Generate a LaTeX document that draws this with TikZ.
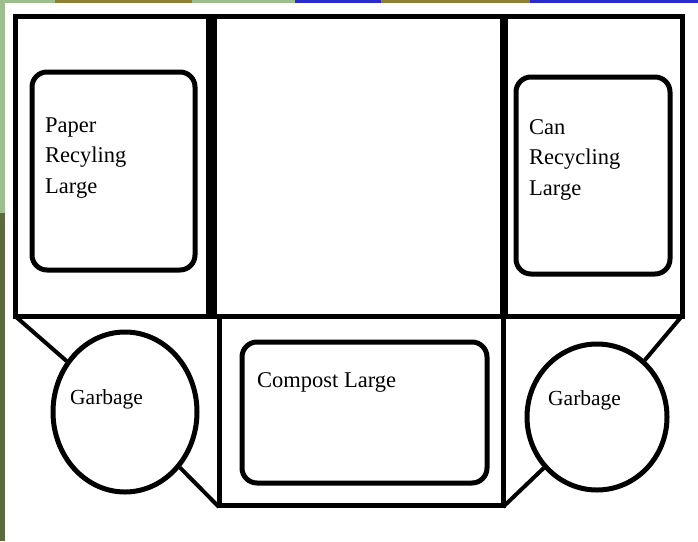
\documentclass[tikz,border=0pt]{standalone}
\usepackage{fontspec}
\setmainfont{Liberation Serif}
\usetikzlibrary{shapes.geometric}

\definecolor{leaf}{HTML}{9DBF8E}
\definecolor{moss}{HTML}{5B6B3B}
\definecolor{bark}{HTML}{8D7D35}
\definecolor{sky}{HTML}{2B2BCC}

\tikzset{
  bin/.style={draw, line width=5pt, rounded corners=15pt, inner sep=0pt},
  can/.style={draw, ellipse, line width=5pt, inner sep=0pt},
  word/.style={font=\fontsize{22.5}{30.5}\selectfont, align=left, inner sep=0pt, anchor=base west},
}

\begin{document}
\begin{tikzpicture}[x=1pt, y=-1pt]
\useasboundingbox (0,0) rectangle (698,541);
\fill[white] (0,0) rectangle (698,541);

% backdrop
\fill[leaf] (0,0) rectangle (55,3);
\fill[bark] (55,0) rectangle (192,3);
\fill[leaf] (192,0) rectangle (295,3);
\fill[sky] (295,0) rectangle (381,3);
\fill[bark] (381,0) rectangle (530,3);
\fill[sky] (530,0) rectangle (698,3);
\fill[leaf] (0,0) rectangle (5,213);
\fill[moss] (0,213) rectangle (5,541);

% frame
\draw[line width=5pt] (15,16) rectangle (682,316);
\draw[line width=11pt] (211,16) -- (211,316);
\draw[line width=8pt] (504,16) -- (504,316);
\draw[line width=5pt] (219,316) -- (219,505) -- (503,505) -- (503,316);

\coordinate (ul) at (15,316);
\coordinate (ll) at (219,507);
\coordinate (ur) at (682,316);
\coordinate (lr) at (503,507);

\node[bin, minimum width=163, minimum height=198] (paper) at (113.5,171) {};
\node[bin, minimum width=154, minimum height=197] (tins) at (593,175.5) {};
\node[bin, minimum width=245, minimum height=141] (compost) at (364.5,412.5) {};

\node[word] (tpaper) at (45,193) {Paper\\Recyling\\Large};
\node[word] (ttins) at (529,195) {Can\\Recycling\\Large};
\node[word] (tcompost) at (257,387) {Compost Large};

\node[can, minimum width=144, minimum height=160] (garbL) at (125,412) {};
\node[can, minimum width=140, minimum height=146] (garbR) at (597,417) {};
\node[word, font=\fontsize{21.5}{30}\selectfont] (tgarbL) at (70,404) {Garbage};
\node[word, font=\fontsize{21.5}{30}\selectfont] (tgarbR) at (548,405) {Garbage};

\draw[line width=4pt] (ul) -- (garbL);
\draw[line width=4pt] (ll) -- (garbL);
\draw[line width=4pt] (ur) -- (garbR);
\draw[line width=4pt] (lr) -- (garbR);

\end{tikzpicture}
\end{document}
